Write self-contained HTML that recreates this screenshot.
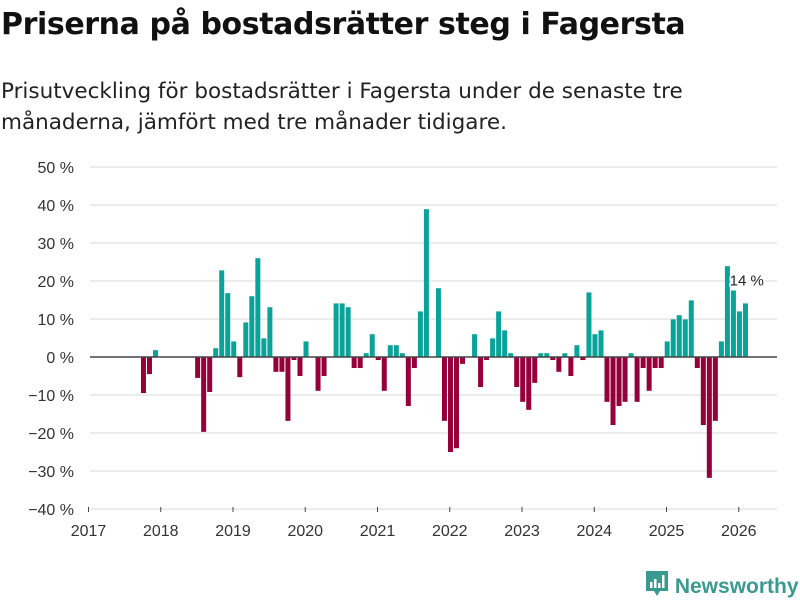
<!DOCTYPE html>
<html><head><meta charset="utf-8"><style>
body{margin:0;width:800px;height:600px;background:#fff;font-family:"Liberation Sans","DejaVu Sans",sans-serif;overflow:hidden;position:relative}
h1{position:absolute;left:1px;top:7px;margin:0;font-family:"DejaVu Sans",sans-serif;font-size:30px;font-weight:bold;color:#111;letter-spacing:-0.4px;white-space:nowrap}
.sub{position:absolute;left:1px;top:76px;margin:0;font-family:"DejaVu Sans",sans-serif;font-size:21.5px;line-height:31px;color:#222;white-space:nowrap}
svg{position:absolute;left:0;top:0}
.logo{position:absolute;left:645px;top:569px;font-size:21px;font-weight:bold;color:#3a9a8f}
</style></head><body>
<h1>Priserna på bostadsrätter steg i Fagersta</h1>
<p class="sub">Prisutveckling för bostadsrätter i Fagersta under de senaste tre<br>månaderna, jämfört med tre månader tidigare.</p>
<svg id="chart" width="800" height="600"></svg>
<div class="logo"><svg width="24" height="30" viewBox="0 0 24 30" style="vertical-align:-6px;position:static"><path d="M1 2h22v20h-8l-3 5-3-5H1z" fill="#3a9a8f"/><rect x="5" y="13" width="2.5" height="6" fill="#fff"/><rect x="9" y="10" width="2.5" height="9" fill="#fff"/><rect x="13" y="14" width="2.5" height="5" fill="#fff"/><rect x="17" y="6" width="2.5" height="13" fill="#fff"/></svg> Newsworthy</div>
<script>
const startIndex = 8;
const values = [-9.5,-4.5,1.8,null,null,null,null,null,null,-5.5,-19.7,-9.2,2.3,22.8,16.8,4.1,-5.3,9.1,16,26,4.9,13.1,-3.9,-3.9,-16.8,-0.8,-5,4.1,null,-8.9,-5,null,14.1,14.1,13.1,
-2.9,-2.9,1,6,-0.8,-8.9,3.1,3.1,1,-12.9,-2.9,12,38.9,null,18.1,-16.8,-25,-24,-1.8,null,6,-7.9,-0.8,4.9,12,7,1,-7.9,-11.8,-13.9,-6.8,1,1,-0.8,-3.9,
1,-5,3.1,-0.8,17,6,7,-11.8,-17.9,-12.9,-11.8,1,-11.8,-2.9,-8.9,-2.9,-2.9,4.1,9.9,11,9.9,14.9,-2.9,-17.9,-31.8,-16.8,4.1,23.9,17.5,12,14.1];
const yTicks = [50,40,30,20,10,0,-10,-20,-30,-40];
const years = [2017,2018,2019,2020,2021,2022,2023,2024,2025,2026];
const lastLabel = "14 %";
const NS="http://www.w3.org/2000/svg", svg=document.getElementById('chart');
const y = v => 357 - v*3.8;
const xm = m => 88.5 + m*6.02;
const yearX = yr => 88.5 + (yr-2017)*72.25;
function mk(t,a){const e=document.createElementNS(NS,t);for(const k in a)e.setAttribute(k,a[k]);svg.appendChild(e);return e;}
yTicks.forEach(t=>{
  if(t!==0){const g=mk('line',{x1:90,x2:777,y1:y(t),y2:y(t),stroke:'#e1e1e1','stroke-width':1.2});
  
  }
  const l=mk('text',{x:74,y:y(t)+6,'text-anchor':'end','font-size':16,fill:'#333','font-family':'Liberation Sans, sans-serif'});
  l.textContent=(t<0?'−'+(-t):t)+' %';
  
  
});
years.forEach(yr=>{
  const tk=mk('line',{x1:yearX(yr),x2:yearX(yr),y1:507,y2:512,stroke:'#444','stroke-width':1});
  
  
  const l=mk('text',{x:yearX(yr),y:536,'text-anchor':'middle','font-size':16,fill:'#333','font-family':'Liberation Sans, sans-serif'});
  l.textContent=yr;
  
  
});
values.forEach((v,k)=>{
  if(v===null)return;
  const i=startIndex+k;
  const top=v>=0?y(v):y(0), h=Math.abs(y(v)-y(0));
  const r=mk('rect',{x:xm(i)+4.3,y:top,width:5,height:Math.max(h,0.5),fill:v>=0?'#0aa39a':'#95003a'});
  
  
});
const z=mk('line',{x1:90,x2:777,y1:y(0),y2:y(0),stroke:'#444','stroke-width':1.5});


const li=startIndex+values.length-1;
const lb=mk('text',{x:xm(li-2)+3,y:y(values[values.length-1])-18,'font-size':15,fill:'#222',stroke:'#fff','stroke-width':3,'paint-order':'stroke','font-family':'Liberation Sans, sans-serif'});
lb.textContent=lastLabel;


</script>
</body></html>
